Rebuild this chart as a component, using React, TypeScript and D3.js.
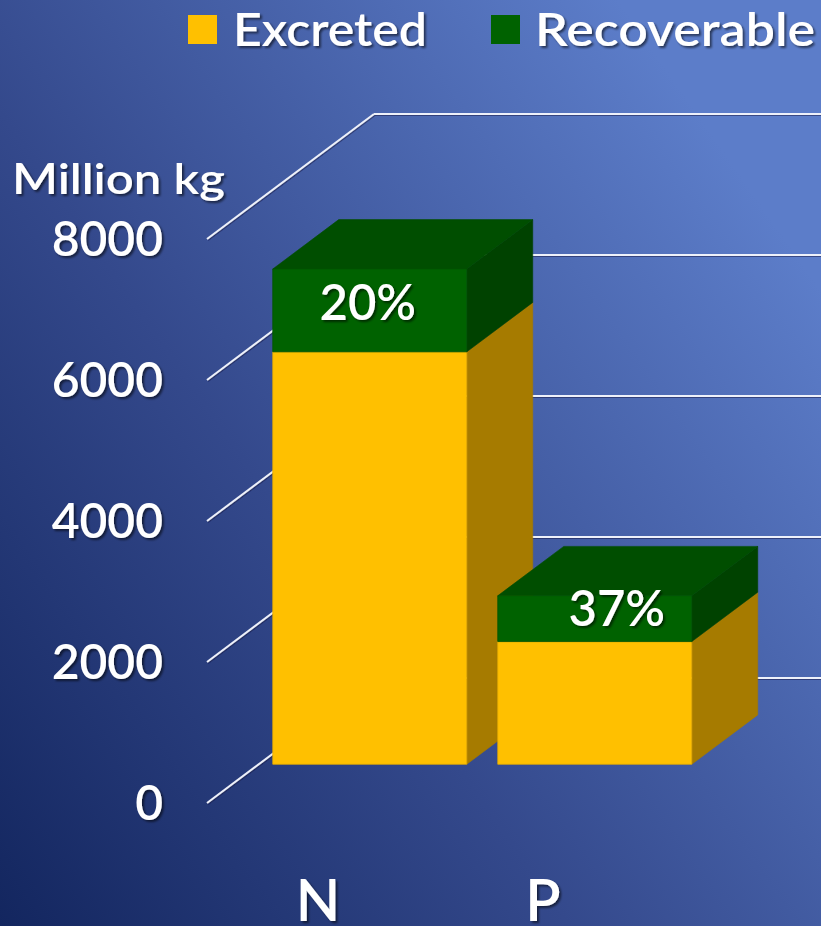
import React from "react";
import * as d3 from "d3";

const categories = ["N", "P"];
const excreted = [5850, 1740];
const recoverable = [1175, 650];
const percentLabels = ["20%", "37%"];
const tickValues = [0, 2000, 4000, 6000, 8000];
const seriesNames = ["Excreted", "Recoverable"];
const axisTitle = "Million kg";

const W = 821;
const H = 926;

// oblique depth projection
const DEPTH_DX = 167;
const DEPTH_DY = -125;
const BAR_D0 = 0.31;
const BAR_D1 = 0.705;
const BAR_W = 194;

const y = d3.scaleLinear().domain([0, 8000]).range([803, 239]);
const xFront = d3.scalePoint<string>().domain(categories).range([318, 543]);

const proj = (x: number, yy: number, d: number): [number, number] => [
  x + DEPTH_DX * d,
  yy + DEPTH_DY * d,
];

const colors = {
  yellow: { front: "#FFC000", side: "#A67B00", top: "#C89600", edge: "#E6AC00" },
  green: { front: "#006200", side: "#004200", top: "#004E00", edge: "#005400" },
};

const labelDx = [-2, 22];
const labelDy = [51, 30];

function poly(pts: [number, number][]) {
  return pts.map((p) => p.join(",")).join(" ");
}

function Box({ cx, v0, v1, c, top }: { cx: number; v0: number; v1: number; c: any; top: boolean }) {
  const xl = cx - BAR_W / 2;
  const xr = cx + BAR_W / 2;
  const yb = y(v0);
  const yt = y(v1);
  const fBL = proj(xl, yb, BAR_D0);
  const fBR = proj(xr, yb, BAR_D0);
  const fTL = proj(xl, yt, BAR_D0);
  const fTR = proj(xr, yt, BAR_D0);
  const bBR = proj(xr, yb, BAR_D1);
  const bTR = proj(xr, yt, BAR_D1);
  const bTL = proj(xl, yt, BAR_D1);
  return (
    <g>
      <polygon points={poly([fBR, bBR, bTR, fTR])} fill={c.side} stroke={c.side} strokeWidth={0.6} />
      {top && <polygon points={poly([fTL, fTR, bTR, bTL])} fill={c.top} stroke={c.top} strokeWidth={0.6} />}
      <polygon points={poly([fBL, fBR, fTR, fTL])} fill={c.front} stroke={c.edge} strokeWidth={0.8} />
    </g>
  );
}

export default function App() {
  const font = "Lato, 'Open Sans', sans-serif";
  const backX = proj(207, 0, 1)[0];
  return (
    <svg width={W} height={H} style={{ display: "block", position: "absolute", left: 0, top: 0 }}>
      <defs>
        <linearGradient id="bg" x1="0" y1="1" x2="0.95" y2="0.25">
          <stop offset="0" stopColor="#13265f" />
          <stop offset="0.45" stopColor="#34498c" />
          <stop offset="1" stopColor="#5c7dc9" />
        </linearGradient>
        <filter id="ts" x="-10%" y="-10%" width="130%" height="140%">
          <feDropShadow dx="2" dy="2" stdDeviation="1.2" floodColor="#000" floodOpacity="0.55" />
        </filter>
        <filter id="ls" x="-5%" y="-50%" width="110%" height="300%">
          <feDropShadow dx="1" dy="1" stdDeviation="0.6" floodColor="#0a1840" floodOpacity="0.5" />
        </filter>
      </defs>
      <rect x={0} y={0} width={W} height={H} fill="url(#bg)" />

      {/* gridlines */}
      <g filter="url(#ls)" stroke="#eef1fa" strokeWidth={2} fill="none">
        {tickValues.map((t) => {
          const a = proj(207, y(t), 0);
          const b = proj(207, y(t), 1);
          return (
            <g key={t}>
              <line x1={a[0]} y1={a[1]} x2={b[0]} y2={b[1]} />
              <line x1={backX} y1={b[1]} x2={W} y2={b[1]} />
            </g>
          );
        })}
      </g>

      {/* bars */}
      {categories.map((cat, i) => {
        const cx = xFront(cat) as number;
        return (
          <g key={cat}>
            <Box cx={cx} v0={0} v1={excreted[i]} c={colors.yellow} top={false} />
            <Box cx={cx} v0={excreted[i]} v1={excreted[i] + recoverable[i]} c={colors.green} top={true} />
          </g>
        );
      })}

      {/* percent labels */}
      <g filter="url(#ts)" fill="#fff" fontFamily={font} fontSize={49} fontWeight={600} textAnchor="middle">
        {categories.map((cat, i) => {
          const [fx, ty] = proj(xFront(cat) as number, y(excreted[i] + recoverable[i]), BAR_D0);
          return (
            <text key={cat} x={fx + labelDx[i]} y={ty + labelDy[i]}>
              {percentLabels[i]}
            </text>
          );
        })}
      </g>

      {/* y axis labels */}
      <g filter="url(#ts)" fill="#fff" fontFamily={font} fontWeight={600}>
        {tickValues.map((t) => (
          <text key={t} x={163} y={y(t)} dy="0.36em" fontSize={48} textAnchor="end">
            {t}
          </text>
        ))}
        <text x={12} y={194} fontSize={42} textLength={213} lengthAdjust="spacingAndGlyphs">
          {axisTitle}
        </text>
      </g>

      {/* category labels */}
      <g filter="url(#ts)" fill="#fff" fontFamily={font} fontSize={58} fontWeight={600} textAnchor="middle">
        {categories.map((cat) => (
          <text key={cat} x={xFront(cat) as number} y={921}>
            {cat}
          </text>
        ))}
      </g>

      {/* legend */}
      <g>
        <rect x={188} y={15} width={29} height={29} fill={colors.yellow.front} />
        <rect x={491} y={15} width={29} height={29} fill={colors.green.front} />
        <g filter="url(#ts)" fill="#fff" fontFamily={font} fontSize={47} fontWeight={600}>
          <text x={233} y={46} textLength={194} lengthAdjust="spacingAndGlyphs">
            {seriesNames[0]}
          </text>
          <text x={535} y={46} textLength={280} lengthAdjust="spacingAndGlyphs">
            {seriesNames[1]}
          </text>
        </g>
      </g>
    </svg>
  );
}
